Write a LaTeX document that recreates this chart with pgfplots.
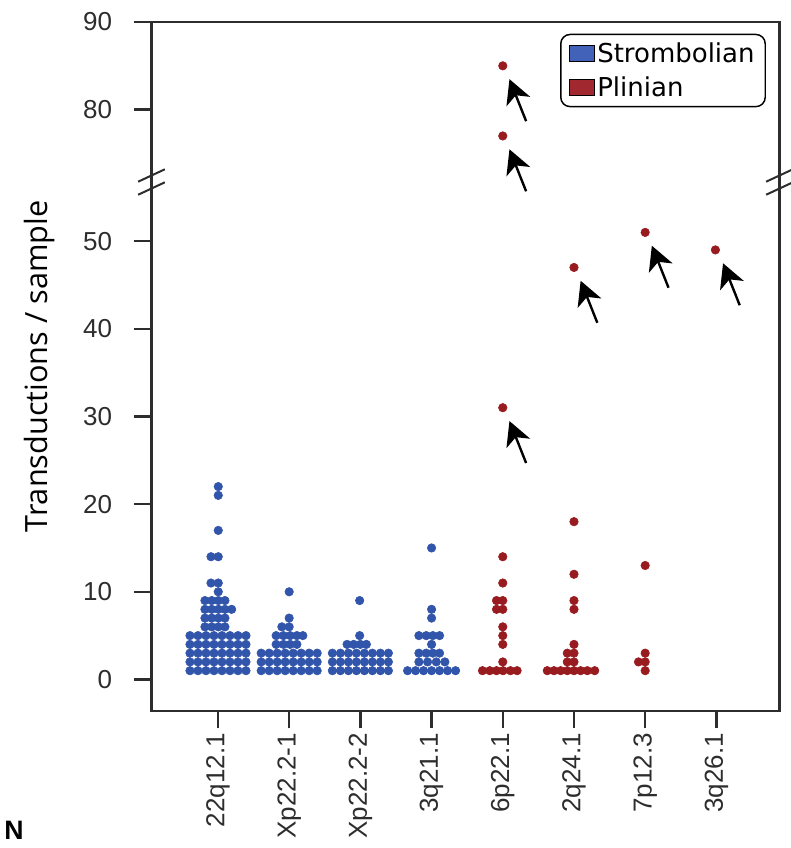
\documentclass[border=0pt]{standalone}
\usepackage{pgfplots}
\pgfplotsset{compat=1.18}
\usepackage{fontspec}
\setmainfont{Liberation Sans}
\newfontfamily\dejavu{DejaVu Sans}
\newfontfamily\opensans{Open Sans}
\usetikzlibrary{arrows.meta}
\definecolor{sblue}{RGB}{49,85,170}
\definecolor{sred}{RGB}{152,27,31}
\definecolor{legblue}{RGB}{66,98,185}
\definecolor{legred}{RGB}{160,40,46}
\definecolor{axgray}{RGB}{45,45,45}
\begin{document}
\begin{tikzpicture}
\path[use as bounding box] (0,0) rectangle (592.5pt,-636pt);
\begin{axis}[
  at={(113.6pt,-533.25pt)}, anchor=south west,
  scale only axis, width=471pt, height=516.75pt,
  xmin=-0.934, xmax=7.886, ymin=-3.6, ymax=75,
  clip=false,
  axis line style={axgray, line width=1.9pt},
  tick style={axgray, line width=1.9pt},
  tick align=outside, major tick length=13pt,
  xtick={0,...,7},
  xticklabels={22q12.1,Xp22.2-1,Xp22.2-2,3q21.1,6p22.1,2q24.1,7p12.3,3q26.1},
  ytick={0,10,20,30,40,50,65,75},
  yticklabels={0,10,20,30,40,50,80,90},
  xtick pos=bottom, ytick pos=left,
  /pgf/number format/assume math mode=true,
  tick label style={font=\fontsize{19.5}{23}\selectfont, text=axgray},
  xticklabel style={rotate=90, anchor=east},
  yticklabel style={xshift=-13pt},
  ylabel={Transductions / sample},
  ylabel style={at={(axis description cs:-0.179,0.5)}, anchor=center, font=\opensans\fontsize{23}{27}\selectfont, text=black},
  y filter/.expression={y>60 ? y-15 : y},
  legend style={at={(0.9785,0.983)}, anchor=north east, draw=black, line width=1.1pt,
    rounded corners=7pt, font=\dejavu\fontsize{19.5}{22}\selectfont, fill=white,
    inner xsep=6pt, inner ysep=4pt, row sep=5.5pt,
    nodes={inner sep=2pt}},
  legend cell align=left,
  legend image code/.code={\draw[#1, sharp corners] (0pt,-6pt) rectangle (18.75pt,6pt);},
]
\addlegendimage{fill=legblue, draw=black, line width=0.6pt}
\addlegendentry{Strombolian}
\addlegendimage{fill=legred, draw=black, line width=0.6pt}
\addlegendentry{Plinian}

% 22q12.1
\addplot[only marks, mark=*, mark size=3.2pt, color=sblue, forget plot] coordinates {
(-0.3933,1)(-0.2809,1)(-0.1685,1)(-0.0562,1)(0.0562,1)(0.1685,1)(0.2809,1)(0.3933,1)
(-0.3933,2)(-0.2809,2)(-0.1685,2)(-0.0562,2)(0.0562,2)(0.1685,2)(0.2809,2)(0.3933,2)
(-0.3933,3)(-0.2809,3)(-0.1685,3)(-0.0562,3)(0.0562,3)(0.1685,3)(0.2809,3)(0.3933,3)
(-0.3933,4)(-0.2809,4)(-0.1685,4)(-0.0562,4)(0.0562,4)(0.1685,4)(0.2809,4)(0.3933,4)
(-0.3933,5)(-0.2809,5)(-0.1685,5)(-0.0562,5)(0.0562,5)(0.1685,5)(0.2809,5)(0.3933,5)
(-0.183,6)(-0.088,6)(0.006,6)(0.098,6)
(-0.183,7)(-0.088,7)(0.006,7)(0.098,7)
(-0.183,8)(-0.088,8)(0.006,8)(0.098,8)(0.192,8)
(-0.183,9)(-0.088,9)(0.006,9)(0.098,9)
(0.004,10)
(-0.098,11)(0.004,11)
(-0.098,14)(0.004,14)
(0.004,17)(0.004,21)(0.004,22)
};
% Xp22.2-1
\addplot[only marks, mark=*, mark size=3.2pt, color=sblue, forget plot] coordinates {
(0.6067,1)(0.7191,1)(0.8315,1)(0.9438,1)(1.0562,1)(1.1685,1)(1.2809,1)(1.3933,1)
(0.6067,2)(0.7191,2)(0.8315,2)(0.9438,2)(1.0562,2)(1.1685,2)(1.2809,2)(1.3933,2)
(0.6067,3)(0.7191,3)(0.8315,3)(0.9438,3)(1.0562,3)(1.1685,3)(1.2809,3)(1.3933,3)
(0.817,4)(0.920,4)(1.014,4)(1.108,4)
(0.817,5)(0.920,5)(1.014,5)(1.108,5)(1.192,5)
(0.897,6)(1.0,6)
(1.0,7)
(1.0,10)
};
% Xp22.2-2
\addplot[only marks, mark=*, mark size=3.2pt, color=sblue, forget plot] coordinates {
(1.6067,1)(1.7191,1)(1.8315,1)(1.9438,1)(2.0562,1)(2.1685,1)(2.2809,1)(2.3933,1)
(1.6067,2)(1.7191,2)(1.8315,2)(1.9438,2)(2.0562,2)(2.1685,2)(2.2809,2)(2.3933,2)
(1.6067,3)(1.7191,3)(1.8315,3)(1.9438,3)(2.0562,3)(2.1685,3)(2.2809,3)(2.3933,3)
(1.813,4)(1.906,4)(2.0,4)(2.084,4)
(1.99,5)
(1.99,9)
};
% 3q21.1
\addplot[only marks, mark=*, mark size=3.2pt, color=sblue, forget plot] coordinates {
(2.6629,1)(2.7753,1)(2.8876,1)(3.0,1)(3.1124,1)(3.2247,1)(3.3371,1)
(2.822,2)(2.944,2)(3.066,2)(3.187,2)
(2.822,3)(2.925,3)(3.018,3)(3.112,3)
(3.0,4)
(2.822,5)(2.925,5)(3.018,5)(3.112,5)
(3.0,7)(3.0,8)(3.0,15)
};
% 6p22.1
\addplot[only marks, mark=*, mark size=3.2pt, color=sred, forget plot] coordinates {
(3.715,1)(3.817,1)(3.912,1)(4.004,1)(4.108,1)(4.201,1)
(4.0,2)(4.0,4)(4.0,5)(4.0,6)
(3.912,8)(4.0,8)
(3.912,9)(4.0,9)
(4.0,11)(4.0,14)(4.0,31)(4.0,77)(4.0,85)
};
% 2q24.1
\addplot[only marks, mark=*, mark size=3.2pt, color=sred, forget plot] coordinates {
(4.625,1)(4.719,1)(4.813,1)(4.906,1)(5.0,1)(5.094,1)(5.187,1)(5.291,1)
(4.906,2)(5.0,2)
(4.906,3)(5.0,3)
(5.0,4)(5.0,8)(5.0,9)(5.0,12)(5.0,18)(5.0,47)
};
% 7p12.3
\addplot[only marks, mark=*, mark size=3.2pt, color=sred, forget plot] coordinates {
(6.0,1)(5.906,2)(6.0,2)(6.0,3)(6.0,13)(6.0,51)
};
% 3q26.1
\addplot[only marks, mark=*, mark size=3.2pt, color=sred, forget plot] coordinates {
(6.986,49)
};

% arrows (annotations)
\tikzset{pointer/.style={line width=1.8pt, black, -{Stealth[length=18pt, width=19pt, inset=5pt]}}}
\draw[pointer] ([xshift=17.5pt,yshift=-41.5pt]axis cs:4,70) -- ([xshift=5pt,yshift=-10pt]axis cs:4,70);
\draw[pointer] ([xshift=17.5pt,yshift=-41.5pt]axis cs:4,62) -- ([xshift=5pt,yshift=-10pt]axis cs:4,62);
\draw[pointer] ([xshift=17.5pt,yshift=-41.5pt]axis cs:4,31) -- ([xshift=5pt,yshift=-10pt]axis cs:4,31);
\draw[pointer] ([xshift=17.5pt,yshift=-41.5pt]axis cs:5,47) -- ([xshift=5pt,yshift=-10pt]axis cs:5,47);
\draw[pointer] ([xshift=17.5pt,yshift=-41.5pt]axis cs:6,51) -- ([xshift=5pt,yshift=-10pt]axis cs:6,51);
\draw[pointer] ([xshift=17.5pt,yshift=-41.5pt]axis cs:7,49) -- ([xshift=5pt,yshift=-10pt]axis cs:7,49);

% axis break marks
\draw[axgray, line width=1.5pt] ([xshift=-10pt,yshift=-4.65pt]rel axis cs:0,0.7772) -- ([xshift=10pt,yshift=4.65pt]rel axis cs:0,0.7772);
\draw[axgray, line width=1.5pt] ([xshift=-10pt,yshift=-4.65pt]rel axis cs:0,0.7583) -- ([xshift=10pt,yshift=4.65pt]rel axis cs:0,0.7583);
\draw[axgray, line width=1.5pt] ([xshift=-10pt,yshift=-4.65pt]rel axis cs:1,0.7772) -- ([xshift=10pt,yshift=4.65pt]rel axis cs:1,0.7772);
\draw[axgray, line width=1.5pt] ([xshift=-10pt,yshift=-4.65pt]rel axis cs:1,0.7583) -- ([xshift=10pt,yshift=4.65pt]rel axis cs:1,0.7583);
\end{axis}
\node[anchor=south west, font=\bfseries\fontsize{20}{22}\selectfont, inner sep=0pt] at (3pt,-630pt) {N};
\end{tikzpicture}
\end{document}
